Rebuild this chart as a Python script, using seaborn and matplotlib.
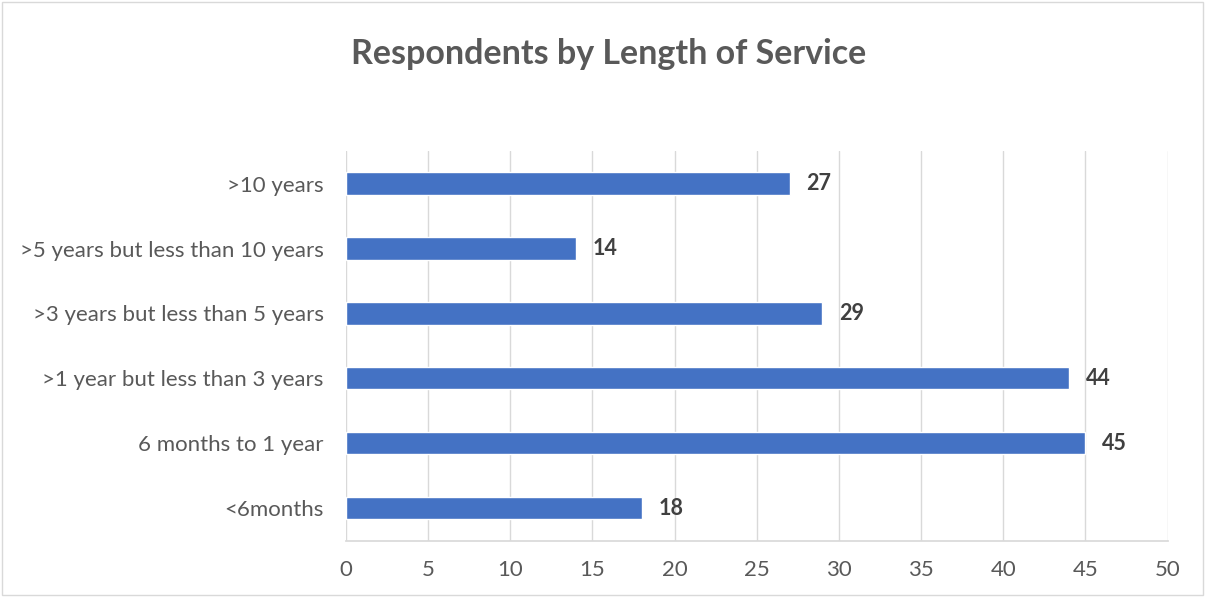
import matplotlib
matplotlib.use("Agg")
import matplotlib.pyplot as plt
import seaborn as sns
import pandas as pd

categories = [">10 years", ">5 years but less than 10 years", ">3 years but less than 5 years",
              ">1 year but less than 3 years", "6 months to 1 year", "<6months"]
values = [27, 14, 29, 44, 45, 18]
xticks = [0, 5, 10, 15, 20, 25, 30, 35, 40, 45, 50]

sns.set_theme(style="white")
plt.rcParams['font.family'] = ['Lato', 'DejaVu Sans']

df = pd.DataFrame({"cat": categories, "val": values})
fig = plt.figure(figsize=(12.05, 5.97), dpi=100)
ax = fig.add_axes([0.287, 0.094, 0.682, 0.653])
sns.barplot(data=df, x="val", y="cat", order=categories, color="#4472C4",
            width=0.34, saturation=1, ax=ax)
ax.set_xlim(0, 50)
ax.set_xticks(xticks)
ax.set_xticklabels([str(t) for t in xticks])
ax.grid(axis="x", color="#D9D9D9", linewidth=1)
ax.set_axisbelow(True)
for s in ["top", "right", "left"]:
    ax.spines[s].set_visible(False)
ax.spines["bottom"].set_color("#D9D9D9")
ax.set_xlabel("")
ax.set_ylabel("")
ax.tick_params(axis="both", length=0, labelsize=16, labelcolor="#595959")
ax.tick_params(axis="y", pad=16)
ax.tick_params(axis="x", pad=14)
for i, v in enumerate(values):
    ax.text(v + 1.0, i, str(v), va="center", ha="left", fontsize=15.5,
            fontweight="bold", color="#404040")
fig.text(0.505, 0.910, "Respondents by Length of Service", ha="center", va="center",
         fontsize=24.5, fontweight="bold", color="#595959")
fig.patches.append(plt.Rectangle((0.002, 0.004), 0.996, 0.992, transform=fig.transFigure,
                                 fill=False, edgecolor="#D9D9D9", linewidth=1))
fig.savefig("out.png", dpi=100)
